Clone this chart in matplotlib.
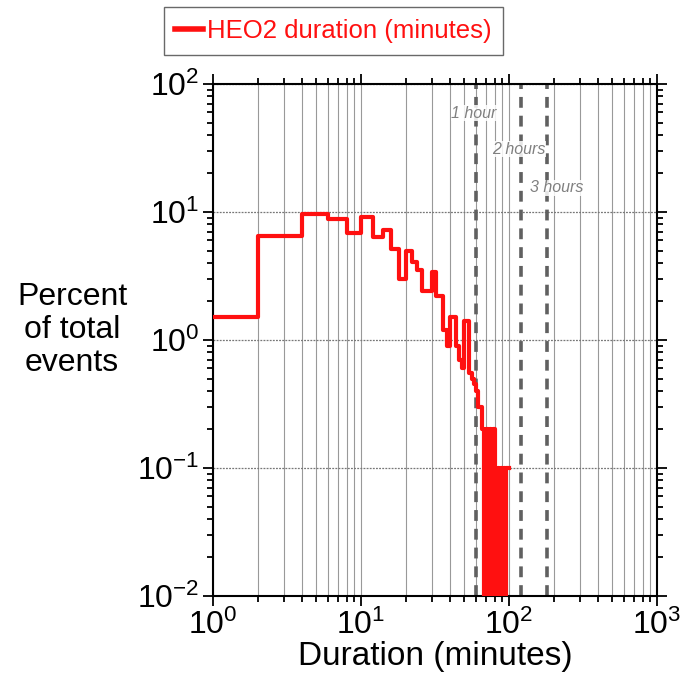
import numpy as np
import matplotlib
matplotlib.use("Agg")
import matplotlib.pyplot as plt

plt.rcParams['font.family'] = ['Liberation Sans', 'DejaVu Sans']
plt.rcParams['mathtext.default'] = 'regular'
plt.rcParams['axes.unicode_minus'] = False

# 2-minute bins, percent of total events
bin_edges = np.arange(0, 102, 2)
percent = [1.5, 6.5, 9.6, 8.8, 6.9, 9.1, 6.4, 7.2, 5.1, 3.0,
           5.0, 4.1, 3.5, 2.4, 2.4, 3.4, 2.2, 2.2, 1.2, 0.9,
           1.5, 1.5, 0.9, 0.7, 0.6, 1.4, 1.4, 0.55, 0.5, 0.45,
           0.4, 0.3, 0.3, 0.2, 0, 0.2, 0, 0.2, 0, 0.2,
           0.1, 0, 0.1, 0, 0.1, 0, 0.1, 0, 0.1, 0.1]

hour_marks = [60, 120, 180]
hour_labels = ['1 hour', '2 hours', '3 hours']
hour_label_x = [58, 117, 211]
hour_label_y = [59, 31, 15.4]

fig = plt.figure(figsize=(6.86, 6.86), dpi=100)
ax = fig.add_axes([0.3105, 0.1312, 0.6472, 0.7464])

ax.set_xscale('log')
ax.set_yscale('log', nonpositive='clip')
ax.set_xlim(1, 1000)
ax.set_ylim(0.01, 100)

ax.grid(True, which='both', axis='x', color='#999999', lw=0.8)
ax.grid(True, which='major', axis='y', color='#777777', lw=0.9, ls=(0, (1.5, 1)))
ax.set_axisbelow(True)

for xm in hour_marks:
    ax.axvline(xm, color='#606060', lw=2.6, ls=(0, (3, 2.2)), zorder=2)

for lx, ly, lab in zip(hour_label_x, hour_label_y, hour_labels):
    ax.text(lx, ly, lab, ha='center', va='center', fontsize=11.5, style='italic',
            color='#808080', zorder=3,
            bbox=dict(facecolor='white', edgecolor='none', pad=0.5, alpha=0.85))

vals = np.append(percent, percent[-1])
line, = ax.step(bin_edges, vals, where='post', color='#ff1010', lw=3, zorder=4,
                label='HEO2 duration (minutes)')

ax.tick_params(which='both', direction='out', top=True, right=True,
               labelsize=23, width=1.3, color='black', pad=3)
ax.tick_params(which='major', length=7)
ax.tick_params(which='minor', length=4)
for s in ax.spines.values():
    s.set_linewidth(1.5)

ax.set_xlabel('Duration (minutes)', fontsize=24, labelpad=0)

fig.text(72 / 686, 1 - 330 / 686, 'Percent\nof total\nevents', ha='center', va='center',
         fontsize=23, linespacing=1.15)

leg = fig.legend(handles=[line], loc='center',
                 bbox_to_anchor=((170 + 497) / 2 / 686, 1 - 31 / 686),
                 fontsize=18.5, frameon=True, fancybox=False, handlelength=1.1,
                 handletextpad=0.15, borderpad=0.45, borderaxespad=0)
leg.get_frame().set_edgecolor('#444444')
leg.get_frame().set_linewidth(1.0)
leg.get_lines()[0].set_linewidth(4)
for t in leg.get_texts():
    t.set_color('#ff1010')

fig.savefig('out.png', dpi=100)
